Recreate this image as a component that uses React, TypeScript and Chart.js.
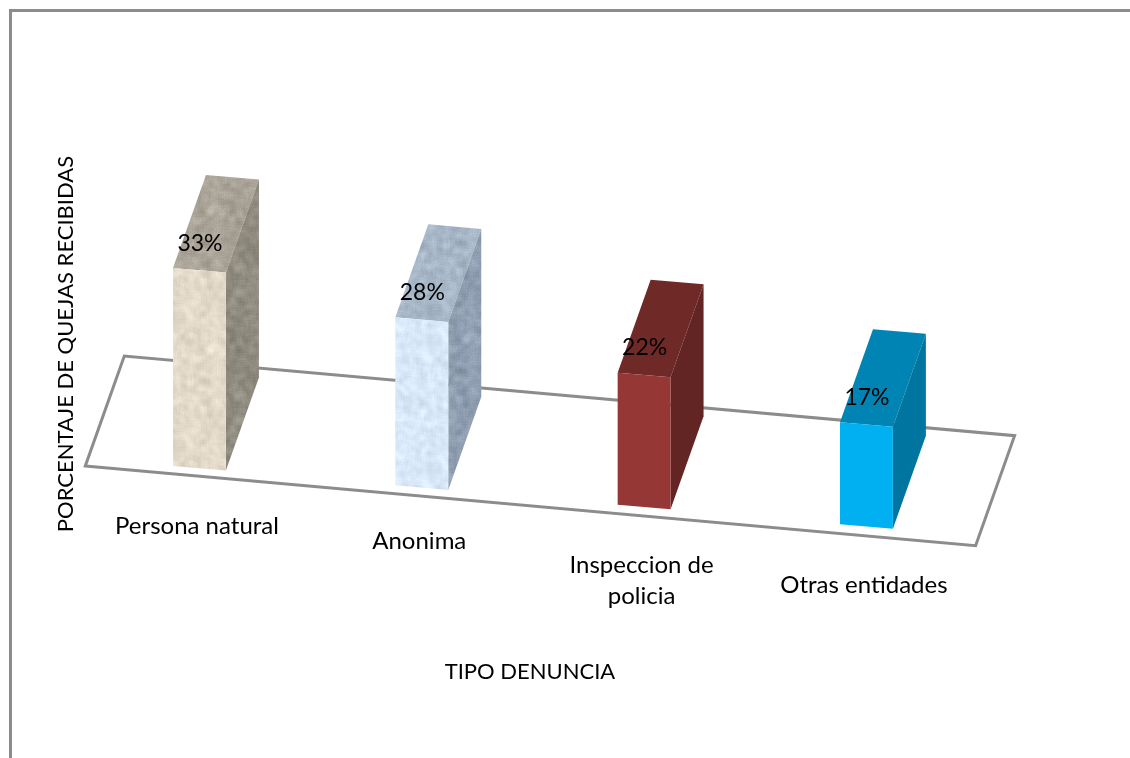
import React, { useEffect, useRef } from "react";
import { Chart, registerables } from "chart.js";

Chart.register(...registerables);

const categories: (string | string[])[] = ["Persona natural", "Anonima", ["Inspeccion de", "policia"], "Otras entidades"];
const values = [33, 28, 22, 17];
const valueLabels = ["33%", "28%", "22%", "17%"];
const yTitle = "PORCENTAJE DE QUEJAS RECIBIDAS";
const xTitle = "TIPO DENUNCIA";

const frontColors = ["#e2d9c9", "#d8e7f8", "#953735", "#00b0f0"];
const topColors = ["#aaa397", "#a6b6c7", "#6f2a28", "#0084b4"];
const sideColors = ["#918c80", "#8f9fb1", "#632523", "#00759f"];
const textured = [true, true, false, false];

const FONT = "Lato, Carlito, sans-serif";
const TITLE_SIZE = 22;
const LABEL_SIZE = 24;
const VALUE_SIZE = 23;
const SHEAR = 0.0872;
const DEPTH_X = 33;
const DEPTH_Y = -93;
const GRAY = "#8c8c8c";
const labelDrop = [58, 54, 58, 58.5];

function tile(color: string, amp: number): CanvasPattern | string {
  const size = 128;
  const c = document.createElement("canvas");
  c.width = size;
  c.height = size;
  const g = c.getContext("2d");
  if (!g) return color;
  const r0 = parseInt(color.slice(1, 3), 16);
  const g0 = parseInt(color.slice(3, 5), 16);
  const b0 = parseInt(color.slice(5, 7), 16);
  // fixed surface grain: a hash of the pixel position, blurred into soft mottling
  const hash = (x: number, y: number) => {
    const v = Math.sin(x * 12.9898 + y * 78.233) * 43758.5453;
    return v - Math.floor(v) - 0.5;
  };
  const img = g.createImageData(size, size);
  for (let y = 0; y < size; y++) {
    for (let x = 0; x < size; x++) {
      let soft = 0;
      for (let dy = -3; dy <= 3; dy++) {
        for (let dx = -3; dx <= 3; dx++) {
          soft += hash((x + dx + size) % size, (y + dy + size) % size);
        }
      }
      const d = (soft / 7 * 2.2 + hash(x, y) * 0.7) * amp;
      const i = (y * size + x) * 4;
      img.data[i] = r0 + d;
      img.data[i + 1] = g0 + d;
      img.data[i + 2] = b0 + d;
      img.data[i + 3] = 255;
    }
  }
  g.putImageData(img, 0, 0);
  return g.createPattern(c, "repeat") || color;
}

const scene = {
  id: "scene",
  afterLayout(chart: any) {
    // axis titles sit off the plot centre in the reference
    chart.scales.y.top += 65.4;
    chart.scales.y.bottom += 65.4;
    chart.scales.x.left -= 3;
    chart.scales.x.right -= 3;
  },
  beforeDraw(chart: any) {
    const ctx = chart.ctx;
    ctx.save();
    ctx.fillStyle = "#fff";
    ctx.fillRect(0, 0, chart.width, chart.height);
    ctx.strokeStyle = GRAY;
    ctx.lineWidth = 3;
    ctx.beginPath();
    ctx.moveTo(10.5, chart.height);
    ctx.lineTo(10.5, 10.5);
    ctx.lineTo(chart.width, 10.5);
    ctx.stroke();
    ctx.restore();
  },
  beforeDatasetsDraw(chart: any) {
    const ctx = chart.ctx;
    const { left, right } = chart.chartArea;
    const base = chart.scales.y.getPixelForValue(0);
    const meta = chart.getDatasetMeta(0);
    const x0 = left;
    const fy = (x: number) => base + 7.4 + 0.0895 * (x - left + 3);
    const fl = left - 3;
    const fr = right - 2;
    ctx.save();
    ctx.strokeStyle = GRAY;
    ctx.lineWidth = 3;
    ctx.lineJoin = "miter";
    ctx.beginPath();
    ctx.moveTo(fl, fy(fl));
    ctx.lineTo(fr, fy(fr));
    ctx.lineTo(fr + 39, fy(fr) - 110);
    ctx.lineTo(fl + 39, fy(fl) - 110);
    ctx.closePath();
    ctx.stroke();
    ctx.restore();

    const sh = (x: number, y: number) => y + SHEAR * (x - x0);
    meta.data.forEach((bar: any, i: number) => {
      const xl = bar.x - bar.width / 2;
      const xr = bar.x + bar.width / 2;
      const yt = bar.y;
      const yb = bar.base;
      ctx.save();
      ctx.fillStyle = textured[i] ? tile(topColors[i], 9) : topColors[i];
      ctx.beginPath();
      ctx.moveTo(xl, sh(xl, yt));
      ctx.lineTo(xr, sh(xr, yt));
      ctx.lineTo(xr + DEPTH_X, sh(xr, yt) + DEPTH_Y);
      ctx.lineTo(xl + DEPTH_X, sh(xl, yt) + DEPTH_Y);
      ctx.closePath();
      ctx.fill();
      ctx.fillStyle = textured[i] ? tile(sideColors[i], 9) : sideColors[i];
      ctx.beginPath();
      ctx.moveTo(xr, sh(xr, yt));
      ctx.lineTo(xr + DEPTH_X, sh(xr, yt) + DEPTH_Y);
      ctx.lineTo(xr + DEPTH_X, sh(xr, yb) + DEPTH_Y);
      ctx.lineTo(xr, sh(xr, yb));
      ctx.closePath();
      ctx.fill();
      ctx.restore();
    });

    ctx.save();
    ctx.transform(1, SHEAR, 0, 1, 0, -SHEAR * x0);
  },
  afterDatasetsDraw(chart: any) {
    const ctx = chart.ctx;
    ctx.restore();
    const x0 = chart.chartArea.left;
    const meta = chart.getDatasetMeta(0);
    const xs = chart.scales.x;
    ctx.save();
    ctx.fillStyle = "#000";
    ctx.textAlign = "center";
    ctx.textBaseline = "middle";
    meta.data.forEach((bar: any, i: number) => {
      const ySkew = SHEAR * (bar.x - x0);
      ctx.font = `${VALUE_SIZE}px ${FONT}`;
      ctx.fillText(valueLabels[i], bar.x + 0.5, bar.y + ySkew - 27);
      const lab = xs.getLabelForValue(i);
      const raw = categories[i];
      const lines = Array.isArray(raw) ? raw : [lab];
      ctx.font = `${LABEL_SIZE}px ${FONT}`;
      lines.forEach((ln: string, j: number) => {
        ctx.fillText(ln, bar.x - 2.5, bar.base + ySkew + labelDrop[i] + j * 31);
      });
    });
    ctx.restore();
  },
};

export default function App() {
  const ref = useRef<HTMLCanvasElement>(null);
  useEffect(() => {
    document.body.style.margin = "0";
    if (!ref.current) return;
    const chart = new Chart(ref.current, {
      type: "bar",
      data: {
        labels: categories as any,
        datasets: [
          {
            data: values,
            backgroundColor: frontColors.map((c, i) => (textured[i] ? tile(c, 8) : c)) as any,
            borderWidth: 0,
            barPercentage: 0.238,
            categoryPercentage: 1,
            clip: false as any,
          },
        ],
      },
      options: {
        animation: false,
        responsive: false,
        events: [],
        layout: { padding: { top: 98.6, right: 152.4, left: 52.25, bottom: 72.25 } },
        plugins: { legend: { display: false }, tooltip: { enabled: false } },
        scales: {
          x: {
            grid: { display: false, drawTicks: false },
            border: { display: false },
            ticks: { display: false },
            title: {
              display: true,
              text: xTitle,
              color: "#000",
              font: { family: FONT, size: TITLE_SIZE, lineHeight: 1.25 },
              padding: { top: 199.65, bottom: 0 },
            },
          },
          y: {
            min: 0,
            max: 60,
            grid: { display: false, drawTicks: false },
            border: { display: false },
            ticks: { display: false },
            title: {
              display: true,
              text: yTitle,
              color: "#000",
              font: { family: FONT, size: TITLE_SIZE, lineHeight: 1.25 },
              padding: { top: 0, bottom: 8.55 },
            },
          },
        },
      },
      plugins: [scene as any],
    });
    return () => chart.destroy();
  }, []);
  return <canvas ref={ref} width={1130} height={758} style={{ display: "block" }} />;
}
